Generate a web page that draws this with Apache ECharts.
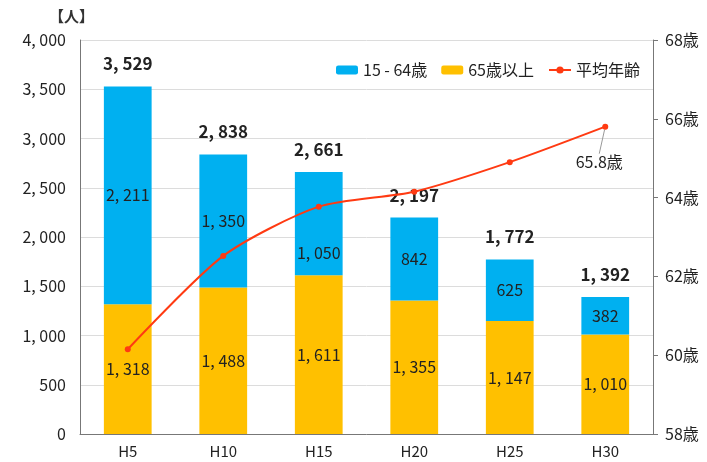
<!DOCTYPE html>
<html><head><meta charset="utf-8">
<script src="https://cdn.jsdelivr.net/npm/echarts@6/dist/echarts.min.js"></script>
<style>html,body{margin:0;padding:0;background:#fff}#c{width:707px;height:462px}</style>
</head><body><div id="c"></div>
<script>
const categories = ['H5','H10','H15','H20','H25','H30'];
const working = [2211, 1350, 1050, 842, 625, 382];
const elderly = [1318, 1488, 1611, 1355, 1147, 1010];
const totals = [3529, 2838, 2661, 2197, 1772, 1392];
const avgAge = [60.15, 62.52, 63.77, 64.15, 64.9, 65.8];
const leftTicks = [0, 500, 1000, 1500, 2000, 2500, 3000, 3500, 4000];
const rightTicks = [58, 60, 62, 64, 66, 68];
const seriesNames = ['15 - 64歳', '65歳以上', '平均年齢'];

const FONT = '"Noto Sans CJK JP", sans-serif';
const fmt = v => Number(v).toLocaleString('en-US').replace(/,/g, ', ');

const chart = echarts.init(document.getElementById('c'));
chart.setOption({
  animation: false,
  textStyle: { fontFamily: FONT },
  title: { text: '【人】', left: 44, top: 4, textStyle: { fontFamily: FONT, fontSize: 15, fontWeight: 'bold', color: '#333' } },
  legend: {
    data: [seriesNames[0], seriesNames[1], seriesNames[2]],
    right: 62, top: 57, itemWidth: 22, itemHeight: 9, itemGap: 14,
    textStyle: { fontFamily: FONT, fontSize: 16, color: '#222' }
  },
  grid: { left: 80, right: 54, top: 40, bottom: 28, containLabel: false },
  xAxis: {
    type: 'category', data: categories,
    axisLine: { lineStyle: { color: '#777' } }, axisTick: { show: false },
    axisLabel: { fontFamily: FONT, fontSize: 15, color: '#222', margin: 10 }
  },
  yAxis: [
    { type: 'value', min: leftTicks[0], max: leftTicks[leftTicks.length - 1], interval: 500,
      axisLine: { show: true, lineStyle: { color: '#777' } }, axisTick: { show: false },
      splitLine: { lineStyle: { color: '#dcdcdc' } },
      axisLabel: { fontFamily: FONT, fontSize: 16, color: '#222', margin: 14, formatter: v => fmt(v) } },
    { type: 'value', min: rightTicks[0], max: rightTicks[rightTicks.length - 1], interval: 2, position: 'right',
      axisLine: { show: true, lineStyle: { color: '#777' } },
      axisTick: { show: true, inside: false, length: 5, lineStyle: { color: '#777' } },
      splitLine: { show: false },
      axisLabel: { fontFamily: FONT, fontSize: 16, color: '#222', margin: 12, formatter: v => v + '歳' } }
  ],
  series: [
    { name: seriesNames[1], type: 'bar', stack: 'p', barWidth: '50%', data: elderly,
      itemStyle: { color: '#FFC000' },
      label: { show: true, position: 'inside', fontFamily: FONT, fontSize: 16, color: '#222', formatter: p => fmt(p.value) } },
    { name: seriesNames[0], type: 'bar', stack: 'p', barWidth: '50%',
      data: working.map((v, i) => i === 2 ? { value: v, label: { offset: [0, 29] } } : v),
      itemStyle: { color: '#00B0F0' },
      label: { show: true, position: 'inside', fontFamily: FONT, fontSize: 16, color: '#222', formatter: p => fmt(p.value) } },
    { name: 'total', type: 'bar', stack: 'p', barWidth: '50%', data: totals.map(() => 0),
      itemStyle: { color: 'transparent' }, tooltip: { show: false },
      label: { show: true, position: 'top', distance: 14, fontFamily: FONT, fontSize: 17, fontWeight: 'bold', color: '#222',
        formatter: p => fmt(totals[p.dataIndex]) } },
    { name: seriesNames[2], type: 'line', yAxisIndex: 1, data: avgAge.map((v, i) => i === avgAge.length - 1 ?
        { value: v, label: { show: true } } : v),
      smooth: 0.25, symbol: 'circle', symbolSize: 6,
      itemStyle: { color: '#FF3A12' }, lineStyle: { color: '#FF3A12', width: 2 },
      label: { show: false, position: 'bottom', distance: 4, fontFamily: FONT, fontSize: 16, color: '#222', formatter: p => p.value + '歳' },
      labelLayout: p => (p.dataIndex === avgAge.length - 1 ? { dx: -6, dy: 20 } : {}),
      labelLine: { show: true, lineStyle: { color: '#999', width: 1 } },
      z: 5 }
  ]
});
</script></body></html>
